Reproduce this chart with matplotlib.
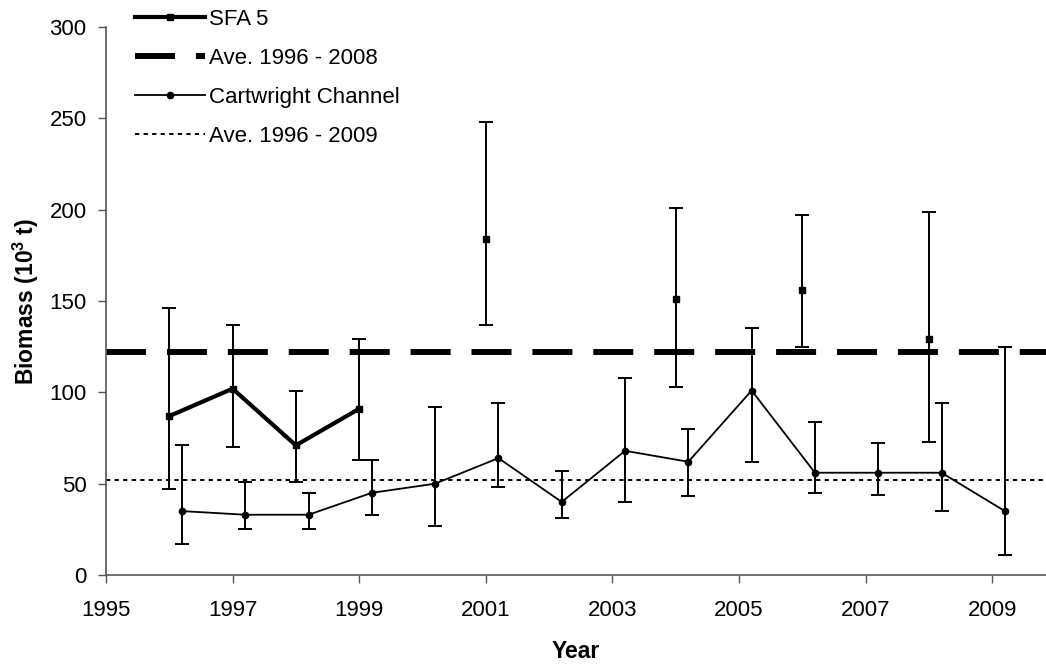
import numpy as np
import matplotlib
matplotlib.use("Agg")
from matplotlib import pyplot as plt

plt.rcParams['font.family'] = ['Liberation Sans', 'DejaVu Sans']
plt.rcParams['mathtext.fontset'] = 'custom'
plt.rcParams['mathtext.rm'] = 'Liberation Sans'
plt.rcParams['mathtext.bf'] = 'Liberation Sans:bold'

# SFA 5 survey biomass (10^3 t) with confidence limits; NaN = no survey
sfa_years = [1996, 1997, 1998, 1999, 2000, 2001, 2002, 2003, 2004, 2005, 2006, 2007, 2008]
sfa_biomass = [87, 102, 71, 91, np.nan, 184, np.nan, np.nan, 151, np.nan, 156, np.nan, 129]
sfa_lower = [47, 70, 51, 63, np.nan, 137, np.nan, np.nan, 103, np.nan, 125, np.nan, 73]
sfa_upper = [146, 137, 101, 129, np.nan, 248, np.nan, np.nan, 201, np.nan, 197, np.nan, 199]
sfa_mean = 122

# Cartwright Channel biomass, plotted slightly offset from the SFA 5 points
cc_years = [1996, 1997, 1998, 1999, 2000, 2001, 2002, 2003, 2004, 2005, 2006, 2007, 2008, 2009]
cc_biomass = [35, 33, 33, 45, 50, 64, 40, 68, 62, 101, 56, 56, 56, 35]
cc_lower = [17, 25, 25, 33, 27, 48, 31, 40, 43, 62, 45, 44, 35, 11]
cc_upper = [71, 51, 45, 63, 92, 94, 57, 108, 80, 135, 84, 72, 94, 125]
cc_mean = 52
cc_offset = 0.2

sfa_x = np.array(sfa_years, dtype=float)
sfa_y = np.array(sfa_biomass, dtype=float)
sfa_err = [sfa_y - np.array(sfa_lower, dtype=float), np.array(sfa_upper, dtype=float) - sfa_y]

cc_x = np.array(cc_years, dtype=float) + cc_offset
cc_y = np.array(cc_biomass, dtype=float)
cc_err = [cc_y - np.array(cc_lower, dtype=float), np.array(cc_upper, dtype=float) - cc_y]

fig = plt.figure(figsize=(10.46, 6.65), dpi=100)
ax = fig.add_axes([0.1013, 0.1353, 0.8987, 0.8241])

ax.errorbar(sfa_x, sfa_y, yerr=sfa_err, fmt='none', ecolor='black',
            elinewidth=1.4, capsize=5, capthick=1.4, zorder=3)
sfa_line, = ax.plot(sfa_x, sfa_y, color='black', lw=3.0, marker='s', ms=5,
                    label='SFA 5', zorder=4)
sfa_ave, = ax.plot([1995, 2010], [sfa_mean, sfa_mean], color='black', lw=4.3,
                   dashes=(6.7, 3.5), label='Ave. 1996 - 2008', zorder=2)

ax.errorbar(cc_x, cc_y, yerr=cc_err, fmt='none', ecolor='black',
            elinewidth=1.4, capsize=5, capthick=1.4, zorder=3)
cc_line, = ax.plot(cc_x, cc_y, color='black', lw=1.3, marker='o', ms=4.5,
                   label='Cartwright Channel', zorder=4)
cc_ave, = ax.plot([1995, 2010], [cc_mean, cc_mean], color='black', lw=1.4,
                  dashes=(2.2, 2.2), label='Ave. 1996 - 2009', zorder=2)

ax.set_xlim(1995, 2009.85)
ax.set_ylim(0, 300)
ax.set_xticks(np.arange(1995, 2010, 2))
ax.set_yticks(np.arange(0, 301, 50))
ax.tick_params(axis='both', direction='out', length=6, width=1, color='#555555',
               labelsize=16)
ax.tick_params(axis='x', pad=12)
ax.tick_params(axis='y', pad=8)
for side in ['top', 'right']:
    ax.spines[side].set_visible(False)
for side in ['left', 'bottom']:
    ax.spines[side].set_color('#555555')
    ax.spines[side].set_linewidth(1.2)

ax.set_xlabel('Year', fontsize=16.5, fontweight='bold', labelpad=14)
ax.set_ylabel(r'Biomass (10$^{\mathbf{3}}$ t)', fontsize=16.5, fontweight='bold', labelpad=6)

leg = fig.legend(handles=[sfa_line, sfa_ave, cc_line, cc_ave], loc='upper left',
                 bbox_to_anchor=(0.1205, 1.0), frameon=False, fontsize=16,
                 handlelength=3.15, handletextpad=0.2, labelspacing=0.81,
                 borderaxespad=0)

fig.savefig('out.png', dpi=100)
